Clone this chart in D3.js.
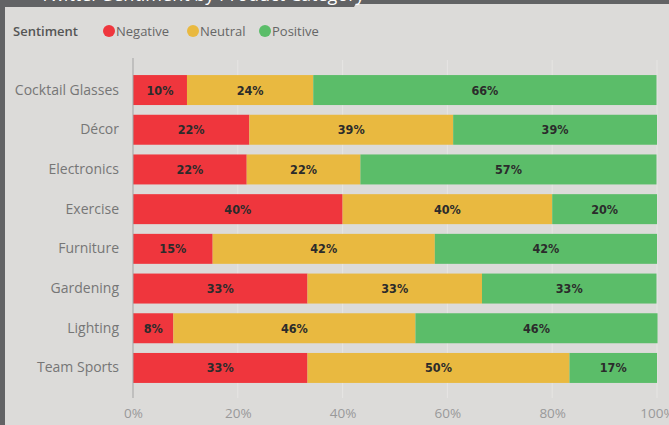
<!DOCTYPE html>
<html>
<head>
<meta charset="utf-8">
<script src="https://cdn.jsdelivr.net/npm/d3@7"></script>
<style>
  body { margin: 0; background: #dcdbd9; }
  svg { display: block; }
</style>
</head>
<body>
<svg id="chart" width="669" height="425"></svg>
<script>
const categories = ["Cocktail Glasses", "Décor", "Electronics", "Exercise", "Furniture", "Gardening", "Lighting", "Team Sports"];
const sentiments = ["Negative", "Neutral", "Positive"];
const negative = [10.3, 22.2, 21.7, 40.0, 15.2, 33.3, 7.7, 33.3];
const neutral = [24.1, 38.9, 21.7, 40.0, 42.4, 33.3, 46.2, 50.0];
const positive = [65.5, 38.9, 56.5, 20.0, 42.4, 33.3, 46.2, 16.7];
const xTicks = [0, 20, 40, 60, 80, 100];
const colors = ["#ef363d", "#e9b940", "#5bbd69"];

const svg = d3.select("#chart");
const width = +svg.attr("width");
const height = +svg.attr("height");
const margin = { top: 70, right: 12, bottom: 37, left: 133 };

// frame + cut-off title
svg.append("rect").attr("x", 0).attr("y", 0).attr("width", width).attr("height", 4).attr("fill", "#626365");
svg.append("rect").attr("x", 0).attr("y", 0).attr("width", 5).attr("height", height).attr("fill", "#626365");
svg.append("path").attr("d", "M0,0H358L354,7H0Z").attr("fill", "#626365");
svg.append("text")
  .attr("x", 40).attr("y", 1)
  .attr("fill", "#ffffff")
  .style("font-family", "'Open Sans', sans-serif")
  .style("font-size", "18px")
  .text("Twitter Sentiment by Product Category");

const rows = categories.map((c, i) => ({ category: c, Negative: negative[i], Neutral: neutral[i], Positive: positive[i] }));
const series = d3.stack().keys(sentiments)(rows);

const x = d3.scaleLinear().domain([0, 100]).range([margin.left, width - margin.right]);
const y = d3.scaleBand().domain(categories).range([70.2, 387.8]).paddingInner(0.245).paddingOuter(0.1225);
const color = d3.scaleOrdinal().domain(sentiments).range(colors);

// gridlines
svg.append("g")
  .selectAll("line")
  .data(xTicks.slice(1))
  .join("line")
  .attr("x1", (d) => x(d)).attr("x2", (d) => x(d))
  .attr("y1", 60).attr("y2", 398)
  .attr("stroke", "#e6e5e3")
  .attr("stroke-width", 1);

// bars
const layers = svg.append("g")
  .selectAll("g")
  .data(series)
  .join("g")
  .attr("fill", (d) => color(d.key));

layers.selectAll("rect")
  .data((d) => d)
  .join("rect")
  .attr("x", (d) => x(d[0]))
  .attr("y", (d) => y(d.data.category))
  .attr("width", (d) => x(d[1]) - x(d[0]))
  .attr("height", y.bandwidth());

layers.selectAll("text")
  .data((d) => d.map((v) => ({ v, key: d.key })))
  .join("text")
  .attr("x", (d) => (x(d.v[0]) + x(d.v[1])) / 2)
  .attr("y", (d) => y(d.v.data.category) + y.bandwidth() / 2)
  .attr("dy", "0.36em")
  .attr("text-anchor", "middle")
  .attr("fill", "#2b2b2b")
  .style("font-family", "'DejaVu Sans Condensed', 'DejaVu Sans', sans-serif")
  .style("font-size", "12.5px")
  .style("font-weight", "bold")
  .text((d) => Math.round(d.v.data[d.key]) + "%");

// y axis
const yAxis = svg.append("g")
  .attr("transform", `translate(${margin.left},0)`)
  .call(d3.axisLeft(y).tickSize(0).tickPadding(14));
yAxis.select(".domain").remove();
yAxis.selectAll("text")
  .attr("fill", "#767676")
  .style("font-family", "'Open Sans', sans-serif")
  .style("font-size", "14px");

svg.append("line")
  .attr("x1", x(0)).attr("x2", x(0))
  .attr("y1", 58).attr("y2", 398)
  .attr("stroke", "#a3a3a3");

// x axis
const xAxis = svg.append("g")
  .attr("transform", "translate(0,398)")
  .call(d3.axisBottom(x).tickValues(xTicks).tickSize(0).tickPadding(10).tickFormat((d) => d + "%"));
xAxis.select(".domain").remove();
xAxis.selectAll("text")
  .attr("fill", "#999999")
  .style("font-family", "'Open Sans', sans-serif")
  .style("font-size", "13.5px");

// legend
const legend = svg.append("g").attr("transform", "translate(13,31)");
legend.append("text")
  .attr("dy", "0.35em")
  .attr("fill", "#555555")
  .style("font-family", "'Open Sans', sans-serif")
  .style("font-size", "13px")
  .style("font-weight", "600")
  .text("Sentiment");

const legendX = [109, 193, 265];
const items = legend.selectAll(".item")
  .data(sentiments)
  .join("g")
  .attr("class", "item")
  .attr("transform", (d, i) => `translate(${legendX[i] - 13},0)`);
items.append("circle").attr("r", 6).attr("fill", (d) => color(d));
items.append("text")
  .attr("x", 7)
  .attr("dy", "0.35em")
  .attr("fill", "#666666")
  .style("font-family", "'Open Sans', sans-serif")
  .style("font-size", "13px")
  .text((d) => d);
</script>
</body>
</html>
